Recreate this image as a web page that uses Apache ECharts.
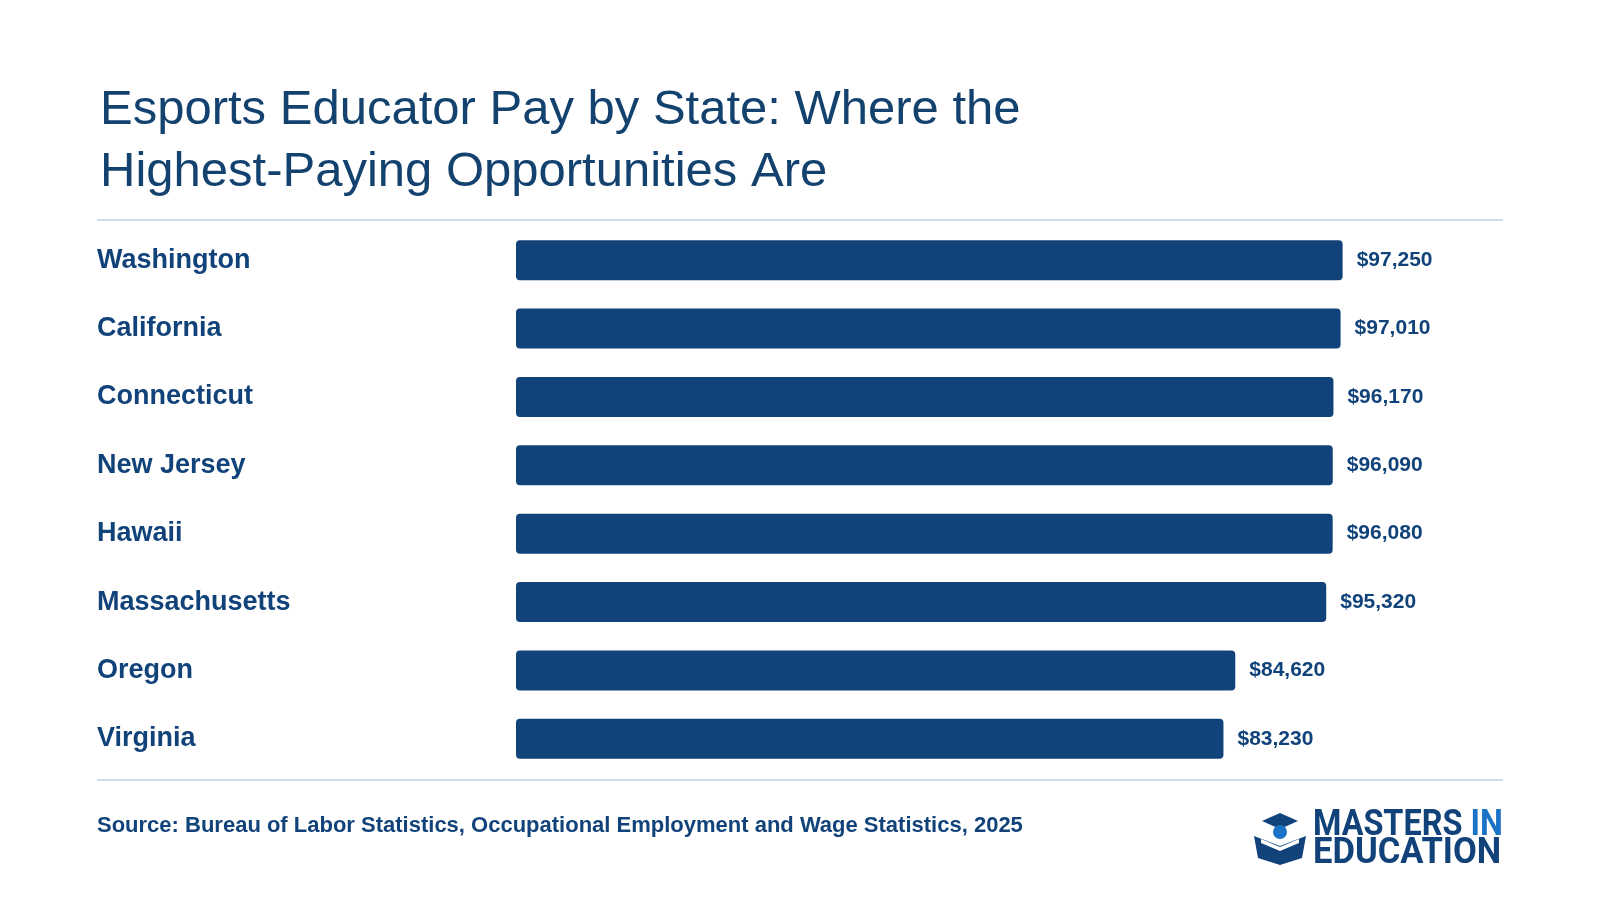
<!DOCTYPE html>
<html><head><meta charset="utf-8">
<script src="https://cdn.jsdelivr.net/npm/echarts@6/dist/echarts.min.js"></script>
<style>html,body{margin:0;padding:0;background:#fff}#c{width:1600px;height:900px}</style>
</head><body><div id="c"></div>
<script>
const states = ["Washington","California","Connecticut","New Jersey","Hawaii","Massachusetts","Oregon","Virginia"];
const pay = [97250,97010,96170,96090,96080,95320,84620,83230];
const title = "Esports Educator Pay by State: Where the\nHighest-Paying Opportunities Are";
const source = "Source: Bureau of Labor Statistics, Occupational Employment and Wage Statistics, 2025";
const navy = "#11437a", font = "Liberation Sans, Arial, sans-serif";
const chart = echarts.init(document.getElementById('c'));
chart.setOption({
  backgroundColor:"#fff",
  animation:false,
  title:{text:title,left:95,top:74,textStyle:{fontFamily:font,fontSize:49,fontWeight:'normal',color:"#13426f",lineHeight:62}},
  grid:{left:516,right:234,top:226,height:547},
  xAxis:{type:'value',min:0,max:100000,show:false},
  yAxis:{type:'category',inverse:true,data:states,axisLine:{show:false},axisTick:{show:false},
    axisLabel:{margin:419,align:'left',fontFamily:font,fontSize:27,fontWeight:'bold',color:navy}},
  series:[{type:'bar',data:pay,barWidth:40,itemStyle:{color:navy,borderRadius:4},
    label:{show:true,position:'right',distance:14,fontFamily:font,fontSize:21,fontWeight:'bold',color:navy,
      formatter:p=>'$'+p.value.toLocaleString('en-US')}}],
  graphic:[
    {type:'rect',shape:{x:97,y:219,width:1406,height:2},style:{fill:"#d3dde8"}},
    {type:'rect',shape:{x:97,y:779,width:1406,height:2},style:{fill:"#d3dde8"}},
    {type:'text',left:97,top:815,style:{text:source,font:"bold 22px "+font,fill:navy}},
    {type:'polygon',shape:{points:[[1262,821],[1280,813],[1298,821],[1280,829]]},style:{fill:navy}},
    {type:'circle',shape:{cx:1280,cy:832,r:7},style:{fill:"#1a73c4"}},
    {type:'polygon',shape:{points:[[1254,836],[1280,846],[1306,836],[1302,858],[1280,865],[1258,858]]},style:{fill:navy}},
    {type:'polygon',shape:{points:[[1261,839],[1280,847],[1299,839],[1299,843],[1280,851],[1261,843]]},style:{fill:"#ffffff"}},
    {type:'text',x:1313,y:808,scaleX:0.9,style:{text:"MASTERS {b|IN}",font:"bold 36px Roboto, "+font,fill:navy,
      rich:{b:{fill:"#1a73c4",font:"bold 36px Roboto, "+font}}}},
    {type:'text',x:1313,y:836,scaleX:0.96,style:{text:"EDUCATION",font:"bold 36px Roboto, "+font,fill:navy}}
  ]
});
</script></body></html>
